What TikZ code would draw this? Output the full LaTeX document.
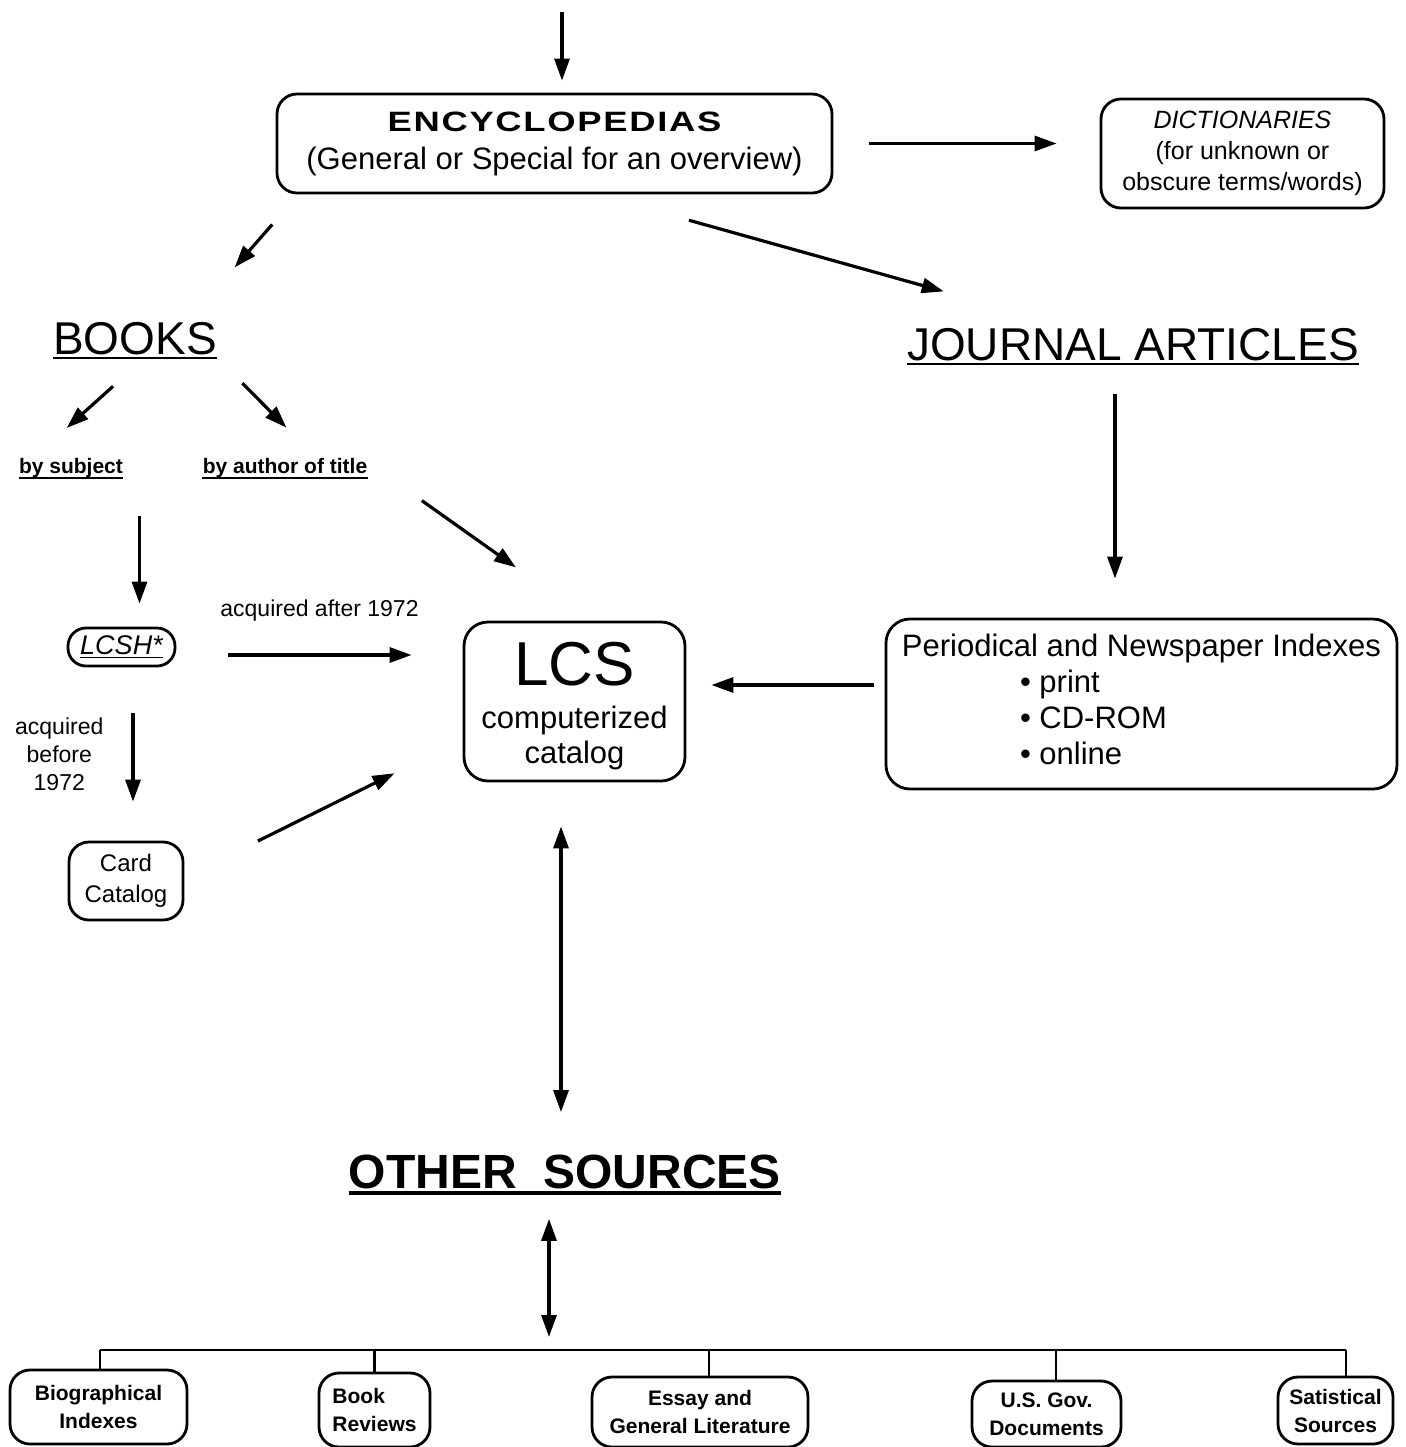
\documentclass[tikz,border=0pt]{standalone}
\usepackage{fontspec}
\setmainfont{Liberation Sans}
\newfontfamily\widefont[FakeStretch=1.3,LetterSpace=6]{Liberation Sans}
\usetikzlibrary{arrows.meta}

\tikzset{
  box/.style={draw, line width=1.4pt, rounded corners=10pt, align=center, inner sep=0pt},
  leaf/.style={box, font=\bfseries\fontsize{10.5}{14}\selectfont},
  title/.style={inner sep=0pt, anchor=base, font=\fontsize{23}{27}\selectfont},
  small/.style={inner sep=0pt, anchor=base, font=\bfseries\fontsize{10.5}{13}\selectfont},
  link/.style={line width=1.6pt, ->},
  uline/.style={line width=1.4pt},
}

\begin{document}
\begin{tikzpicture}[x=0.5pt, y=-0.5pt, >={Triangle[length=11pt,width=7.5pt]}]
    \useasboundingbox (0,0) rectangle (1406,1447);

    % 1. Nivel superior: enciclopedias y diccionarios
    \coordinate (top) at (562,12);
    \node[box, minimum width=277.5pt, minimum height=49.5pt, font=\fontsize{15.5}{18}\selectfont] (enc) at (554.5,143.5)
        {{\widefont\bfseries\fontsize{14}{18}\selectfont ENCYCLOPEDIAS}\\[1pt](General or Special for an overview)};
    \node[box, minimum width=141.5pt, minimum height=54.5pt, font=\fontsize{12.5}{15.5}\selectfont] (dict) at (1242.5,153.5)
        {\textit{DICTIONARIES}\\(for unknown or\\obscure terms/words)};

    \draw[link, shorten >=6pt] (top) -- (top |- enc.north);
    \draw[link, shorten <=18pt, shorten >=21.5pt] (enc.east) -- (enc.east -| dict.west);

    % 2. Libros y revistas
    \node[title] (books) at (135,354) {BOOKS};
    \node[title] (journal) at (1133,360) {JOURNAL ARTICLES};
    \draw[uline] ([yshift=-2pt]books.base west) -- ([yshift=-2pt]books.base east);
    \draw[uline] ([yshift=-2pt]journal.base west) -- ([yshift=-2pt]journal.base east);

    \draw[link, shorten <=20pt, shorten >=36pt] ([xshift=11.5pt]enc.south west) -- ([xshift=-15pt]books.north east);
    \draw[link, shorten <=48pt, shorten >=67pt] ([xshift=21pt]enc.south) -- ([xshift=83pt]journal.north west);

    % 3. Busqueda de libros
    \node[small] (subj) at (71,473) {by subject};
    \node[small] (author) at (285,473) {by author of title};
    \draw[line width=1pt] ([yshift=-2.5pt]subj.base west) -- ([yshift=-2.5pt]subj.base east);
    \draw[line width=1pt] ([yshift=-2.5pt]author.base west) -- ([yshift=-2.5pt]author.base east);

    \draw[link, shorten <=23.5pt, shorten >=22pt] ([xshift=6.5pt]books.south) -- ([xshift=-18.5pt]subj.north);
    \draw[link, shorten <=20pt, shorten >=21pt] ([xshift=-1.5pt]books.south east) -- ([xshift=15.5pt]author.north);

    \node[box, rounded corners=9pt, minimum width=53.5pt, minimum height=19pt, font=\itshape\fontsize{13.5}{15}\selectfont] (lcsh) at (121.5,647)
        {\underline{LCSH*}};
    \node[box, rounded corners=12pt, minimum width=110.5pt, minimum height=79.5pt, font=\fontsize{15.5}{17.5}\selectfont] (lcs) at (574.5,701.5)
        {{\fontsize{31}{31}\selectfont\rule{0pt}{26.5pt}LCS}\\[4pt]computerized\\catalog};
    \node[box, minimum width=57pt, minimum height=39pt, font=\fontsize{12}{15.5}\selectfont] (card) at (126,881)
        {Card\\Catalog};

    \draw[link, shorten <=19pt, shorten >=11.5pt] ([xshift=9pt]lcsh.north |- subj.south) -- ([xshift=9pt]lcsh.north);
    \draw[link, shorten <=19.7pt, shorten >=46pt] ([xshift=11pt]author.south east) -- ([xshift=8.25pt]lcs.north);
    \draw[link, shorten <=26pt, shorten >=25.5pt] ([yshift=-4pt]lcsh.east) -- ([yshift=-4pt]lcsh.east -| lcs.west)
        node[midway, above=16pt, inner sep=0pt, font=\fontsize{11.5}{14}\selectfont] (after) {acquired after 1972};
    \draw[link, shorten <=23pt, shorten >=19.5pt] ([xshift=3.5pt]card.north |- lcsh.south) -- ([xshift=3.5pt]card.north)
        node[midway, left=14pt, inner sep=0pt, align=center, font=\fontsize{11.5}{14}\selectfont] (before) {acquired\\before\\1972};
    \draw[link, shorten <=41pt, shorten >=38pt] ([yshift=1.75pt]card.east) -- ([yshift=-19pt]lcs.west);

    % 4. Indices de publicaciones periodicas
    \node[box, rounded corners=12pt, minimum width=255.5pt, minimum height=85pt, font=\fontsize{15.5}{18}\selectfont] (period) at (1141.5,704)
        {Periodical and Newspaper Indexes\\\makebox[121.5pt][l]{• print}\\\makebox[121.5pt][l]{• CD-ROM}\\\makebox[121.5pt][l]{• online}\\[-13pt]\rule{0pt}{0pt}};

    \draw[link, shorten <=16.5pt, shorten >=19.5pt] ([xshift=-13.25pt]period.north |- journal.south) -- ([xshift=-13.25pt]period.north);
    \draw[link, shorten <=5.5pt, shorten >=12.5pt] ([yshift=9.5pt]period.west) -- ([yshift=9.5pt]period.west -| lcs.east);

    % 5. Otras fuentes
    \node[inner sep=0pt, anchor=base, font=\bfseries\fontsize{24}{28}\selectfont] (other) at (565,1188) {OTHER\ \ SOURCES};
    \draw[line width=2pt] ([yshift=-2.5pt]other.base west) -- ([yshift=-2.5pt]other.base east);

    \draw[link, <->, shorten <=22pt, shorten >=21pt] ([xshift=-2pt]lcs.south -| other.north) -- ([xshift=-2pt]other.north);

    \coordinate (bus) at (0,1350);
    \node[leaf, minimum width=88.5pt, minimum height=37pt] (bio) at (98.5,1407) {Biographical\\Indexes};
    \node[leaf, minimum width=55.5pt, minimum height=37pt, align=left] (rev) at (374.5,1410) {Book\\Reviews};
    \node[leaf, minimum width=108pt, minimum height=35pt] (essay) at (700,1412) {Essay and\\General Literature};
    \node[leaf, minimum width=74.5pt, minimum height=33pt] (gov) at (1046.5,1414) {U.S. Gov.\\Documents};
    \node[leaf, minimum width=57.5pt, minimum height=33.5pt] (stat) at (1335.5,1410.5) {Satistical\\Sources};

    \draw[link, <->, shorten <=15pt, shorten >=6.5pt] ([xshift=-8pt]other.south) -- ([xshift=-8pt]other.south |- bus);
    \draw[line width=1.4pt] ([xshift=0.75pt]bio.north |- bus) -- ([xshift=5.25pt]stat.north |- bus);
    \foreach \n/\dx in {bio/0.75pt,rev/0pt,essay/4.5pt,gov/4.75pt,stat/5.25pt}
        \draw[line width=1.2pt] ([xshift=\dx]\n.north) -- ([xshift=\dx]\n.north |- bus);

\end{tikzpicture}
\end{document}
